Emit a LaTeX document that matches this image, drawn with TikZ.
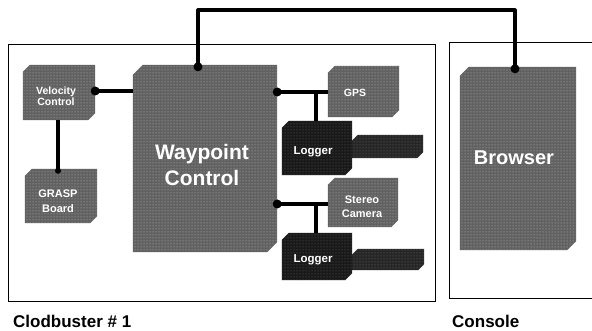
\documentclass[tikz,border=0pt]{standalone}
\usepackage{fontspec}
\setmainfont{Liberation Sans}
\usetikzlibrary{backgrounds,patterns}
\newcommand\bevelfill[3]{%
  \fill[#3] ([yshift=-#2]#1.north west) -- ([xshift=#2]#1.north west) -- (#1.north east)
    -- ([yshift=#2]#1.south east) -- ([xshift=-#2]#1.south east) -- (#1.south west) -- cycle;}
\tikzset{
  boxnode/.style={rectangle, inner sep=0pt, text=white, align=center,
    font=\bfseries\fontsize{10.5}{11.5}\selectfont},
  grayfill/.style={fill=black!62, postaction={pattern=dots, pattern color=white!75!black}},
  darkfill/.style={fill=black!90, postaction={pattern=dots, pattern color=black!60}},
  barfill/.style={fill=black!85, postaction={pattern=dots, pattern color=black!55}},
  frame/.style={draw=black, line width=0.8pt},
  wire/.style={draw=black, line width=3.2pt},
  joint/.style={circle, fill=black, inner sep=0pt, minimum size=9pt},
  caption/.style={font=\bfseries\fontsize{17}{19}\selectfont, anchor=west, inner sep=0pt}
}
\begin{document}
\begin{tikzpicture}[x=1pt,y=-1pt]
\useasboundingbox (0,0) rectangle (592,331);
% frames
\draw[frame] (8,44) rectangle (435,301);
\draw[frame] (600,42) -- (449,42) -- (449,298) -- (600,298);
\node[caption] (cap1) at (13,321) {Clodbuster \# 1};
\node[caption] (cap2) at (452,321) {Console};
% boxes
\node[boxnode, minimum width=72pt, minimum height=55pt] (vel) at (59,92.5) {};
\node[boxnode] (veltext) at (56,96) {Velocity\\Control};
\node[boxnode, minimum width=72pt, minimum height=54pt] (grasp) at (61,196) {};
\node[boxnode, font=\bfseries\fontsize{11}{15}\selectfont] (grasptext) at (58,201) {GRASP\\Board};
\node[boxnode, minimum width=144pt, minimum height=187pt] (wp) at (205,158.5) {};
\node[boxnode, font=\bfseries\fontsize{21}{26}\selectfont] (wptext) at (202,165) {Waypoint\\Control};
\node[boxnode, minimum width=71pt, minimum height=51pt] (gps) at (363.5,91.5) {};
\node[boxnode] (gpstext) at (355,93) {GPS};
\node[boxnode, minimum width=70pt, minimum height=54pt] (log1) at (317,148) {};
\node[boxnode, font=\bfseries\fontsize{11.5}{13}\selectfont] (log1text) at (313,152) {Logger};
\node[boxnode, minimum width=70pt, minimum height=49pt] (stereo) at (363,202.5) {};
\node[boxnode, font=\bfseries\fontsize{11}{14}\selectfont] (stereotext) at (362,207) {Stereo\\Camera};
\node[boxnode, minimum width=70pt, minimum height=47pt] (log2) at (317,256.5) {};
\node[boxnode, font=\bfseries\fontsize{11.5}{13}\selectfont] (log2text) at (313,260) {Logger};
\node[boxnode, minimum width=71pt, minimum height=23pt] (bar1) at (387.5,146.5) {};
\node[boxnode, minimum width=72pt, minimum height=21pt] (bar2) at (388,259.5) {};
\node[boxnode, minimum width=116pt, minimum height=183pt] (br) at (518,158.5) {};
\node[boxnode, font=\bfseries\fontsize{20}{24}\selectfont] (brtext) at (514,158) {Browser};
\begin{pgfonlayer}{background}
\bevelfill{vel}{7pt}{grayfill}
\bevelfill{grasp}{7pt}{grayfill}
\bevelfill{wp}{10pt}{grayfill}
\bevelfill{gps}{7pt}{grayfill}
\bevelfill{bar1}{6pt}{barfill}
\bevelfill{bar2}{6pt}{barfill}
\bevelfill{log1}{7pt}{darkfill}
\bevelfill{stereo}{7pt}{grayfill}
\bevelfill{log2}{7pt}{darkfill}
\bevelfill{br}{9pt}{grayfill}
\end{pgfonlayer}
% connectors
\coordinate (velE) at (vel.east |- 0,91);
\draw[wire] (velE) -- (velE -| wp.west);
\node[joint] (j1) at (velE) {};
\coordinate (velS) at (58,0 |- vel.south);
\coordinate (graspN) at (58,0 |- grasp.north);
\draw[wire] (velS) -- ([yshift=-2pt]graspN);
\node[joint, minimum size=6pt] (j2) at ([yshift=-2pt]graspN) {};
\coordinate (wpN) at (198,0 |- wp.north);
\coordinate (top1) at (198,10);
\coordinate (top2) at (515,10);
\coordinate (brN) at (515,0 |- br.north);
\draw[wire, line join=round] ([yshift=-2pt]wpN) -- (top1) -- (top2) -- ([yshift=-2pt]brN);
\node[joint] (j3) at ([yshift=-2pt]wpN) {};
\node[joint] (j4) at ([yshift=-2pt]brN) {};
\coordinate (wpE1) at (wp.east |- 0,92);
\coordinate (tee1) at (316,92);
\draw[wire] (wpE1) -- (wpE1 -| gps.west);
\draw[wire] (tee1) -- (tee1 |- log1.north);
\node[joint] (j5) at (wpE1) {};
\coordinate (wpE2) at (wp.east |- 0,204);
\coordinate (tee2) at (316,204);
\draw[wire] (wpE2) -- (wpE2 -| stereo.west);
\draw[wire] (tee2) -- (tee2 |- log2.north);
\node[joint] (j6) at (wpE2) {};
\end{tikzpicture}
\end{document}
